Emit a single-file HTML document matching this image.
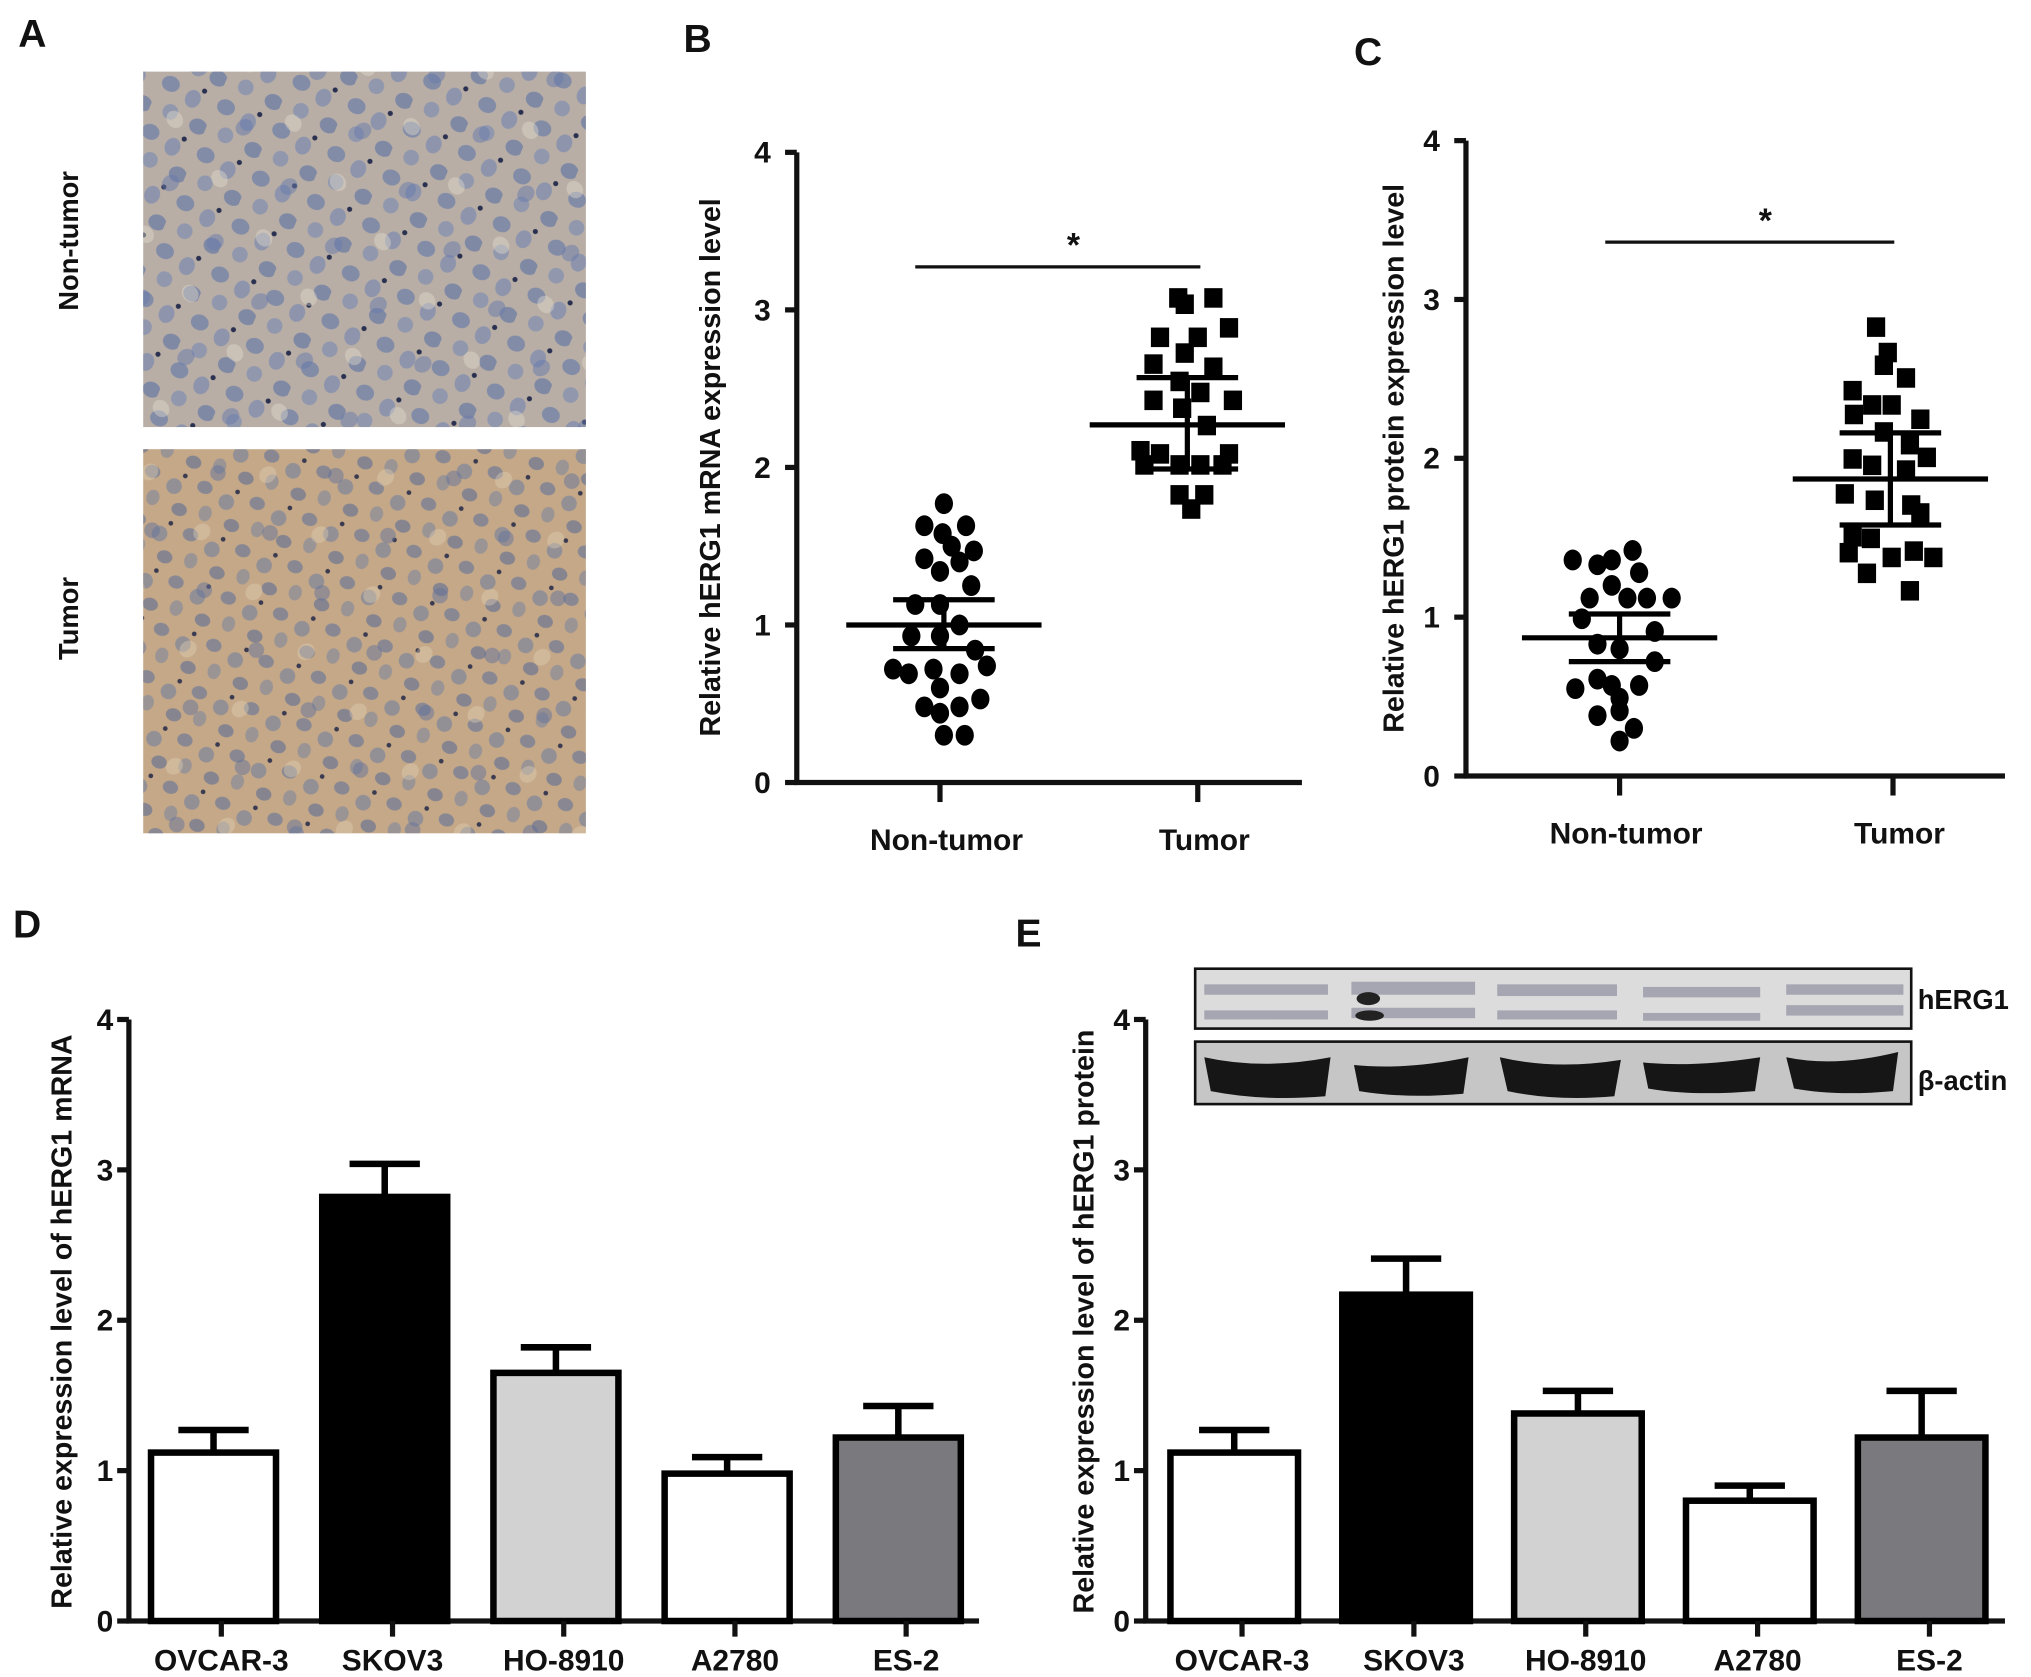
<!DOCTYPE html>
<html><head><meta charset="utf-8"><style>
html,body{margin:0;padding:0;background:#fff;}
svg{display:block;}
text{font-family:"Liberation Sans",Arial,sans-serif;font-weight:bold;fill:#111;}
</style></head><body>
<svg id="fig" xmlns="http://www.w3.org/2000/svg" width="2031" height="1677" viewBox="0 0 1560 1288" preserveAspectRatio="none">
<defs>
<pattern id="cellsA" width="46" height="40" patternUnits="userSpaceOnUse" patternTransform="rotate(23)">
<ellipse cx="8" cy="8" rx="7" ry="6" fill="#5e74a8" opacity="0.6"/>
<ellipse cx="28" cy="12" rx="6" ry="7" fill="#6a7fb0" opacity="0.55"/>
<ellipse cx="40" cy="30" rx="7" ry="6" fill="#5a6fa3" opacity="0.6"/>
<ellipse cx="16" cy="28" rx="6" ry="6" fill="#7084b3" opacity="0.55"/>
<circle cx="34" cy="3" r="2" fill="#2a3150"/>
</pattern>
<pattern id="cellsA2" width="71" height="57" patternUnits="userSpaceOnUse" patternTransform="rotate(-37)">
<ellipse cx="20" cy="20" rx="7" ry="6" fill="#6779ab" opacity="0.5"/>
<ellipse cx="52" cy="40" rx="6" ry="7" fill="#e8e0d0" opacity="0.4"/>
</pattern>
<pattern id="cellsB" width="42" height="38" patternUnits="userSpaceOnUse" patternTransform="rotate(17)">
<ellipse cx="8" cy="8" rx="6" ry="5" fill="#62739a" opacity="0.6"/>
<ellipse cx="27" cy="14" rx="6" ry="6" fill="#6b7ba0" opacity="0.55"/>
<ellipse cx="36" cy="30" rx="6" ry="5" fill="#5d6d95" opacity="0.6"/>
<ellipse cx="14" cy="27" rx="5" ry="6" fill="#71809f" opacity="0.5"/>
<circle cx="33" cy="4" r="1.8" fill="#3a3a50"/>
</pattern>
<pattern id="cellsB2" width="67" height="61" patternUnits="userSpaceOnUse" patternTransform="rotate(-41)">
<ellipse cx="22" cy="18" rx="6" ry="6" fill="#63729a" opacity="0.5"/>
<ellipse cx="50" cy="44" rx="7" ry="6" fill="#e0cfb4" opacity="0.4"/>
</pattern>
</defs>

<!-- Panel A -->
<text x="14" y="36" font-size="30">A</text>
<rect x="110" y="55" width="340" height="273" fill="#b8aea6"/>
<rect x="110" y="55" width="340" height="273" fill="url(#cellsA)"/>
<rect x="110" y="55" width="340" height="273" fill="url(#cellsA2)"/>
<rect x="110" y="345" width="340" height="295" fill="#c4a888"/>
<rect x="110" y="345" width="340" height="295" fill="url(#cellsB)"/>
<rect x="110" y="345" width="340" height="295" fill="url(#cellsB2)"/>
<text transform="translate(60,185) rotate(-90)" text-anchor="middle" font-size="21">Non-tumor</text>
<text transform="translate(60,475) rotate(-90)" text-anchor="middle" font-size="21">Tumor</text>

<text x="525" y="40" font-size="30">B</text>
<text x="1040" y="50" font-size="30">C</text>
<text x="10" y="720" font-size="30">D</text>
<text x="780" y="727" font-size="30">E</text>

<g id="gB"></g><g id="gC"></g><g id="gD"></g><g id="gE"></g>

<!-- Blot inset -->
<g>
<rect x="918" y="744" width="550" height="46" fill="#dcdcdc" stroke="#111" stroke-width="2"/>
<g fill="#7b7b90" opacity="0.55">
<rect x="925" y="756" width="95" height="8"/><rect x="925" y="776" width="95" height="7"/>
<rect x="1038" y="754" width="95" height="10"/><rect x="1038" y="774" width="95" height="8"/>
<rect x="1150" y="756" width="92" height="9"/><rect x="1150" y="776" width="92" height="7"/>
<rect x="1262" y="758" width="90" height="8"/><rect x="1262" y="778" width="90" height="6"/>
<rect x="1372" y="756" width="90" height="8"/><rect x="1372" y="772" width="90" height="8"/>
</g>
<ellipse cx="1051" cy="767" rx="9" ry="5" fill="#222"/><ellipse cx="1052" cy="780" rx="11" ry="4" fill="#222"/>
<rect x="918" y="800" width="550" height="48" fill="#c6c6c6" stroke="#111" stroke-width="2"/>
<g fill="#161616">
<path d="M925 812 Q970 822 1022 812 L1018 842 Q970 846 930 838 Z"/>
<path d="M1040 818 Q1080 822 1128 812 L1124 840 Q1080 844 1044 838 Z"/>
<path d="M1152 812 Q1195 822 1245 814 L1240 842 Q1195 846 1158 838 Z"/>
<path d="M1262 816 Q1300 820 1352 812 L1348 838 Q1300 842 1266 836 Z"/>
<path d="M1372 812 Q1410 820 1458 808 L1454 838 Q1410 842 1378 836 Z"/>
</g>
<text x="1473" y="775" font-size="21">hERG1</text>
<text x="1473" y="837" font-size="21">β-actin</text>
</g>
</svg>
<script>
// ---------- Panel B data ----------
const bCategories = ["Non-tumor", "Tumor"];
const bTicks = [0, 1, 2, 3, 4];
const bNonTumorOffsets = [3,-12,20,2,9,26,-12,15,0,24,-19,0,15,-22,0,27,-36,-24,-5,15,36,0,31,-12,15,0,3,19];
const bNonTumorValues = [1.77,1.63,1.63,1.58,1.5,1.47,1.42,1.4,1.34,1.25,1.13,1.13,1.0,0.93,0.93,0.84,0.72,0.69,0.72,0.69,0.74,0.6,0.53,0.48,0.48,0.44,0.3,0.3];
const bTumorOffsets = [-15,-10,12,24,-29,0,-10,-34,12,-14,2,-34,27,-12,7,-44,-29,24,-14,2,-41,19,-14,5,-5];
const bTumorValues = [3.08,3.04,3.08,2.89,2.83,2.83,2.73,2.66,2.64,2.55,2.48,2.43,2.43,2.38,2.27,2.11,2.09,2.09,2.02,2.02,2.02,2.02,1.83,1.83,1.74];
const bMeans = [1.0, 2.27];
const bSemLow = [0.85, 1.99];
const bSemHigh = [1.16, 2.57];

// ---------- Panel C data ----------
const cCategories = ["Non-tumor", "Tumor"];
const cTicks = [0, 1, 2, 3, 4];
const cNonTumorOffsets = [-36,-17,-6,10,15,-6,-23,6,21,40,-29,27,-17,0,27,-17,-34,15,-6,0,-17,0,11,0];
const cNonTumorValues = [1.36,1.33,1.36,1.42,1.28,1.2,1.12,1.12,1.12,1.12,0.99,0.91,0.83,0.8,0.72,0.61,0.55,0.57,0.57,0.49,0.38,0.41,0.3,0.22];
const cTumorOffsets = [-13,-4,-7,10,-31,-16,-1,-30,21,-7,13,26,-31,-16,10,-37,-14,14,21,-31,-17,-34,-1,16,31,-20,13];
const cTumorValues = [2.83,2.67,2.59,2.51,2.43,2.34,2.34,2.28,2.25,2.17,2.09,2.01,2.0,1.96,1.93,1.78,1.74,1.71,1.66,1.51,1.5,1.41,1.38,1.42,1.38,1.28,1.17];
const cMeans = [0.87, 1.87];
const cSemLow = [0.72, 1.58];
const cSemHigh = [1.02, 2.16];

// ---------- Panel D data ----------
const dCategories = ["OVCAR-3", "SKOV3", "HO-8910", "A2780", "ES-2"];
const dValues = [1.12, 2.82, 1.65, 0.98, 1.22];
const dErrors = [0.15, 0.22, 0.17, 0.11, 0.21];
const dTicks = [0, 1, 2, 3, 4];

// ---------- Panel E data ----------
const eCategories = ["OVCAR-3", "SKOV3", "HO-8910", "A2780", "ES-2"];
const eValues = [1.12, 2.17, 1.38, 0.80, 1.22];
const eErrors = [0.15, 0.24, 0.15, 0.10, 0.31];
const eTicks = [0, 1, 2, 3, 4];

const barFills = ["#ffffff", "#000000", "#d2d2d2", "#ffffff", "#7a7a7e"];
const NS = "http://www.w3.org/2000/svg";
function mk(parent, tag, attrs) {
  const el = document.createElementNS(NS, tag);
  for (const k in attrs) el.setAttribute(k, attrs[k]);
  parent.appendChild(el);
  return el;
}

function scatterPanel(g, cfg, cats, ticks, offs, vals, means, lo, hi, title, sig) {
  const y = v => cfg.y0 - (v - 0) * (cfg.y0 - cfg.y4) / 4;
  const ax = mk(g, "path", {d: `M${cfg.ax} ${cfg.y4} V${cfg.y0} H${cfg.xEnd}`, fill: "none", stroke: "#111", "stroke-width": 4});
  
  
  ticks.forEach(t => {
    const tk = mk(g, "line", {x1: cfg.ax - 9, x2: cfg.ax, y1: y(t), y2: y(t), stroke: "#111", "stroke-width": 4});
    
    
    const tl = mk(g, "text", {x: cfg.ax - 20, y: y(t) + 8, "text-anchor": "end", "font-size": 23});
    tl.textContent = t;
    
    
  });
  cats.forEach((c, i) => {
    const cx = cfg.cx[i];
    const tk = mk(g, "line", {x1: cx, x2: cx, y1: cfg.y0, y2: cfg.y0 + 15, stroke: "#111", "stroke-width": 4});
    
    
    const tl = mk(g, "text", {x: cx + 5, y: cfg.y0 + 52, "text-anchor": "middle", "font-size": 23});
    tl.textContent = c;
    
    
  });
  const tt = mk(g, "text", {transform: `translate(${cfg.titleX},${(cfg.y0 + cfg.y4) / 2}) rotate(-90)`, "text-anchor": "middle", "font-size": 22});
  tt.textContent = title;
  
  
  offs[0].forEach((o, k) => {
    const p = mk(g, "ellipse", {cx: cfg.cx[0] + o, cy: y(vals[0][k]), rx: 7, ry: 8, fill: "#000"});
    
    
  });
  offs[1].forEach((o, k) => {
    const p = mk(g, "rect", {x: cfg.cx[1] + o - 7, y: y(vals[1][k]) - 7, width: 14, height: 15, fill: "#000"});
    
    
  });
  means.forEach((m, i) => {
    const cx = cfg.cx[i] + cfg.shift[i];
    const ml = mk(g, "line", {x1: cx - 75, x2: cx + 75, y1: y(m), y2: y(m), stroke: "#000", "stroke-width": 4});
    
    
    const v = mk(g, "line", {x1: cx, x2: cx, y1: y(lo[i]), y2: y(hi[i]), stroke: "#000", "stroke-width": 4});
    
    
    [lo[i], hi[i]].forEach(s => {
      const c = mk(g, "line", {x1: cx - 39, x2: cx + 39, y1: y(s), y2: y(s), stroke: "#000", "stroke-width": 4});
      
      
    });
  });
  const sl = mk(g, "line", {x1: sig.x1, x2: sig.x2, y1: sig.y, y2: sig.y, stroke: "#111", "stroke-width": 2.5});
  
  
  const st = mk(g, "text", {x: (sig.x1 + sig.x2) / 2 + 12, y: sig.y - 8, "text-anchor": "middle", "font-size": 26});
  st.textContent = "*";
  
  
}

function barPanel(g, cfg, cats, vals, errs, ticks, title) {
  const y = v => cfg.y0 - v * (cfg.y0 - cfg.y4) / 4;
  const ax = mk(g, "path", {d: `M${cfg.ax} ${cfg.y4} V${cfg.y0} H${cfg.xEnd}`, fill: "none", stroke: "#111", "stroke-width": 4});
  
  
  ticks.forEach(t => {
    const tk = mk(g, "line", {x1: cfg.ax - 9, x2: cfg.ax, y1: y(t), y2: y(t), stroke: "#111", "stroke-width": 4});
    
    
    const tl = mk(g, "text", {x: cfg.ax - 12, y: y(t) + 8, "text-anchor": "end", "font-size": 23});
    tl.textContent = t;
    
    
  });
  const tt = mk(g, "text", {transform: `translate(${cfg.titleX},${cfg.titleY}) rotate(-90)`, "text-anchor": "middle", "font-size": 22});
  tt.textContent = title;
  
  
  cats.forEach((c, i) => {
    const cx = cfg.x0 + i * cfg.step;
    const top = y(vals[i]);
    const eb = mk(g, "line", {x1: cx, x2: cx, y1: top, y2: y(vals[i] + errs[i]), stroke: "#000", "stroke-width": 5});
    
    
    const cap = mk(g, "line", {x1: cx - 27, x2: cx + 27, y1: y(vals[i] + errs[i]), y2: y(vals[i] + errs[i]), stroke: "#000", "stroke-width": 5});
    
    
    const b = mk(g, "rect", {x: cx - cfg.bw / 2, y: top, width: cfg.bw, height: cfg.y0 - top, fill: barFills[i], stroke: "#000", "stroke-width": 5});
    
    
    const tk = mk(g, "line", {x1: cx + 6, x2: cx + 6, y1: cfg.y0, y2: cfg.y0 + 12, stroke: "#111", "stroke-width": 4});
    
    
    const tl = mk(g, "text", {x: cx + 6, y: cfg.y0 + 38, "text-anchor": "middle", "font-size": 23});
    tl.textContent = c;
    
    
  });
}

scatterPanel(document.getElementById("gB"),
  {ax: 612, y0: 601, y4: 117, xEnd: 1000, cx: [722, 920], shift: [3, -8], titleX: 553},
  bCategories, bTicks, [bNonTumorOffsets, bTumorOffsets], [bNonTumorValues, bTumorValues],
  bMeans, bSemLow, bSemHigh, "Relative  hERG1 mRNA expression level", {x1: 703, x2: 922, y: 205});
scatterPanel(document.getElementById("gC"),
  {ax: 1126, y0: 596, y4: 108, xEnd: 1540, cx: [1244, 1454], shift: [0, -2], titleX: 1078},
  cCategories, cTicks, [cNonTumorOffsets, cTumorOffsets], [cNonTumorValues, cTumorValues],
  cMeans, cSemLow, cSemHigh, "Relative  hERG1 protein expression level", {x1: 1233, x2: 1455, y: 186});
barPanel(document.getElementById("gD"),
  {ax: 99, y0: 1245, y4: 783, xEnd: 752, x0: 164, step: 131.5, bw: 96, titleX: 55, titleY: 1015},
  dCategories, dValues, dErrors, dTicks, "Relative expression level of hERG1 mRNA");
barPanel(document.getElementById("gE"),
  {ax: 880, y0: 1245, y4: 783, xEnd: 1540, x0: 948, step: 132, bw: 98, titleX: 840, titleY: 1015},
  eCategories, eValues, eErrors, eTicks, "Relative expression level of hERG1 protein");
</script>
</body></html>
